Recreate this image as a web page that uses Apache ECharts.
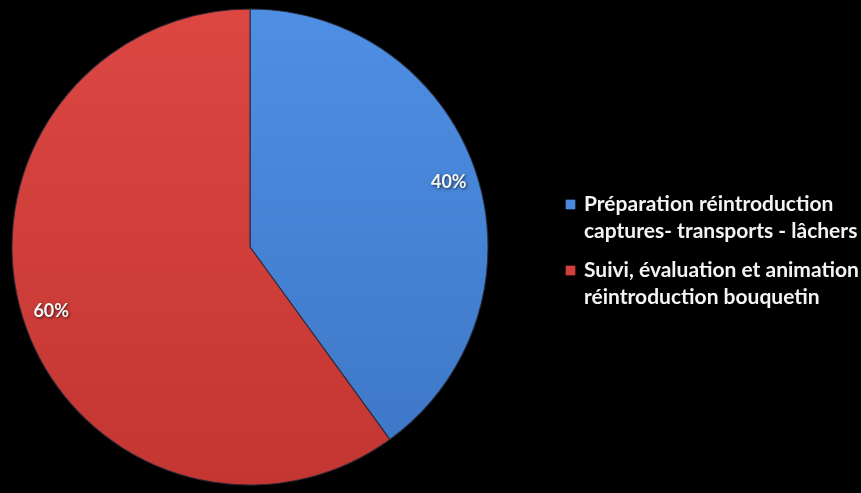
<!DOCTYPE html>
<html><head><meta charset="utf-8">
<script src="https://cdn.jsdelivr.net/npm/echarts@6/dist/echarts.min.js"></script>
<style>html,body{margin:0;padding:0;background:#000;}#c{width:861px;height:493px;}</style>
</head><body><div id="c"></div>
<script>
const categories = ['Préparation réintroduction\ncaptures- transports - lâchers', 'Suivi, évaluation et animation\nréintroduction bouquetin'];
const values = [40, 60];
const colorsTop = ['#4e8fe4', '#dc4742'];
const colorsBottom = ['#3f78c8', '#c33632'];
const boxKeys = ['bxB', 'bxR'];

const chart = echarts.init(document.getElementById('c'));
const dataMain = categories.map((n, i) => ({
  name: n, value: values[i],
  itemStyle: { color: { type: 'linear', x: 0, y: 0, x2: 0, y2: 1, colorStops: [{ offset: 0, color: colorsTop[i] }, { offset: 1, color: colorsBottom[i] }] } }
}));
const dataLabel = categories.map((n, i) => ({ name: n, value: values[i] }));
const FONT = 'Lato, "Open Sans", sans-serif';
chart.setOption({
  backgroundColor: '#000',
  animation: false,
  legend: {
    orient: 'vertical', left: 556, top: 186, itemGap: 12, icon: 'none', itemWidth: 0, itemHeight: 0,
    selectedMode: false,
    data: categories,
    formatter: name => {
      const i = categories.indexOf(name);
      const lines = name.split('\n');
      return '{' + boxKeys[i] + '|}{sp|}{t|' + lines[0] + '}\n{pad|}{t|' + lines[1] + '}';
    },
    textStyle: {
      color: '#fff', fontFamily: FONT, fontWeight: 'bold', fontSize: 21, lineHeight: 27,
      rich: {
        t: { color: '#f4f4f4', fontFamily: FONT, fontWeight: 'bold', fontSize: 21, lineHeight: 27,
             textShadowColor: 'rgba(0,0,0,0.9)', textShadowBlur: 3, textShadowOffsetX: 1, textShadowOffsetY: 1 },
        bxB: { width: 9, height: 9, backgroundColor: '#4a88dc', borderColor: '#2d5ea8', borderWidth: 0.5 },
        bxR: { width: 9, height: 9, backgroundColor: '#d0403c', borderColor: '#9a2825', borderWidth: 0.5 },
        sp: { width: 9 },
        pad: { width: 18 }
      }
    }
  },
  series: [
    {
      type: 'pie', center: [250, 247], radius: [0, 238], startAngle: 90, clockwise: true,
      label: { show: false }, labelLine: { show: false }, silent: true,
      itemStyle: { borderColor: 'rgba(40,40,55,0.85)', borderWidth: 1.2 },
      data: dataMain
    },
    {
      type: 'pie', center: [250, 247], radius: [174, 238], startAngle: 90, clockwise: true,
      silent: true, legendHoverLink: false,
      itemStyle: { color: 'transparent' },
      label: {
        show: true, position: 'inside', formatter: '{d}%', color: '#f6f6f6',
        fontFamily: FONT, fontWeight: 'bold', fontSize: 18,
        textShadowColor: 'rgba(0,0,0,0.7)', textShadowBlur: 3, textShadowOffsetX: 1, textShadowOffsetY: 1
      },
      labelLine: { show: false },
      data: dataLabel
    }
  ]
});
</script></body></html>
